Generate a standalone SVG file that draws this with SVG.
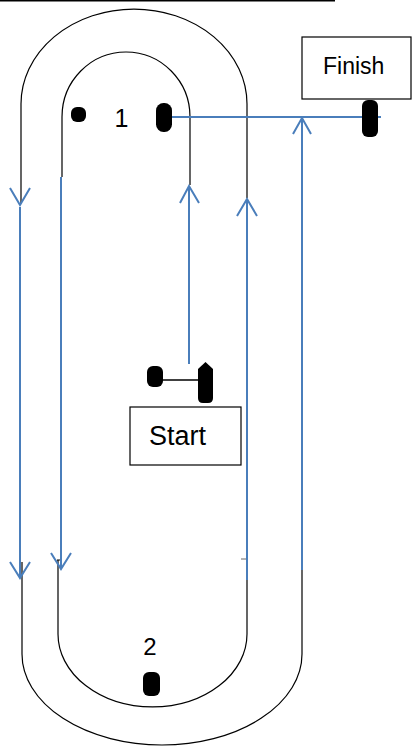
<svg xmlns="http://www.w3.org/2000/svg" width="412" height="746" viewBox="0 0 412 746">
<style>
.track{fill:none;stroke:#000;stroke-width:1.2}
.flow{fill:none;stroke:#4A7EBB;stroke-width:2}
.car{fill:#000}
.box{fill:#fff;stroke:#000;stroke-width:1.2}
.lbl{font-family:"Liberation Sans",Arial,sans-serif;fill:#000}
</style>
<rect width="412" height="746" fill="#fff"/>
<line x1="0" y1="0.8" x2="335" y2="0.8" stroke="#000" stroke-width="1.5"/>
<g id="track">
<path class="track" d="M21 203 L21 104 A113 95 0 0 1 247 104 L247 198"/>
<path class="track" d="M62 177 L62 117 A64 65 0 0 1 190 117 L190 185"/>
<path class="track" d="M22 562 L22 654 A140 91 0 0 0 302 654 L302 562"/>
<path class="track" d="M58 560 L58 634 A94.5 73 0 0 0 247 634 L247 559"/>
<line x1="241" y1="559" x2="247" y2="559" stroke="#666" stroke-width="1"/>
<line x1="57" y1="560" x2="60" y2="560" stroke="#000" stroke-width="1"/>
</g>
<g id="connectors">
<path class="flow" d="M20 207 L20 578"/>
<path class="flow" d="M10 188 L20 205 L30 188"/>
<path class="flow" d="M10 562 L20 578 L30 562"/>
<path class="flow" d="M61 177 L61 569"/>
<path class="flow" d="M51 553 L61 569 L71 553"/>
<path class="flow" d="M189 186 L189 364"/>
<path class="flow" d="M180 203 L189 186 L199 203"/>
<path class="flow" d="M247 199 L247 580"/>
<path class="flow" d="M237 216 L247 199 L257 216"/>
<path class="flow" d="M302 118 L302 570"/>
<path class="flow" d="M293 134 L302 118 L311 134"/>
<path class="flow" d="M158 117 L381 117"/>
</g>
<g id="car-a"><rect class="car" x="71" y="107" width="15" height="15" rx="6"/></g>
<g id="label-1"><text class="lbl" x="121.5" y="127" font-size="25" text-anchor="middle">1</text></g>
<g id="car-1"><rect class="car" x="156" y="103" width="16" height="29" rx="7.5"/></g>
<g id="finish">
<rect class="box" x="302" y="37" width="109" height="62"/>
<text class="lbl" x="323" y="74" font-size="23">Finish</text>
</g>
<g id="car-finish"><rect class="car" x="362" y="100" width="16" height="37" rx="6"/></g>
<g id="car-start">
<rect class="car" x="147" y="366" width="16" height="21" rx="6"/>
<line x1="163" y1="380" x2="199" y2="380" stroke="#000" stroke-width="1.5"/>
<path class="car" d="M198 369 L205.5 362 L213 369 L213 398 Q213 403 208 403 L203 403 Q198 403 198 398 Z"/>
</g>
<g id="start">
<rect class="box" x="130" y="407" width="111" height="58"/>
<text class="lbl" x="149" y="445" font-size="27">Start</text>
</g>
<g id="label-2"><text class="lbl" x="150" y="655" font-size="24" text-anchor="middle">2</text></g>
<g id="car-2"><rect class="car" x="143" y="672" width="17" height="24" rx="6"/></g>
</svg>
